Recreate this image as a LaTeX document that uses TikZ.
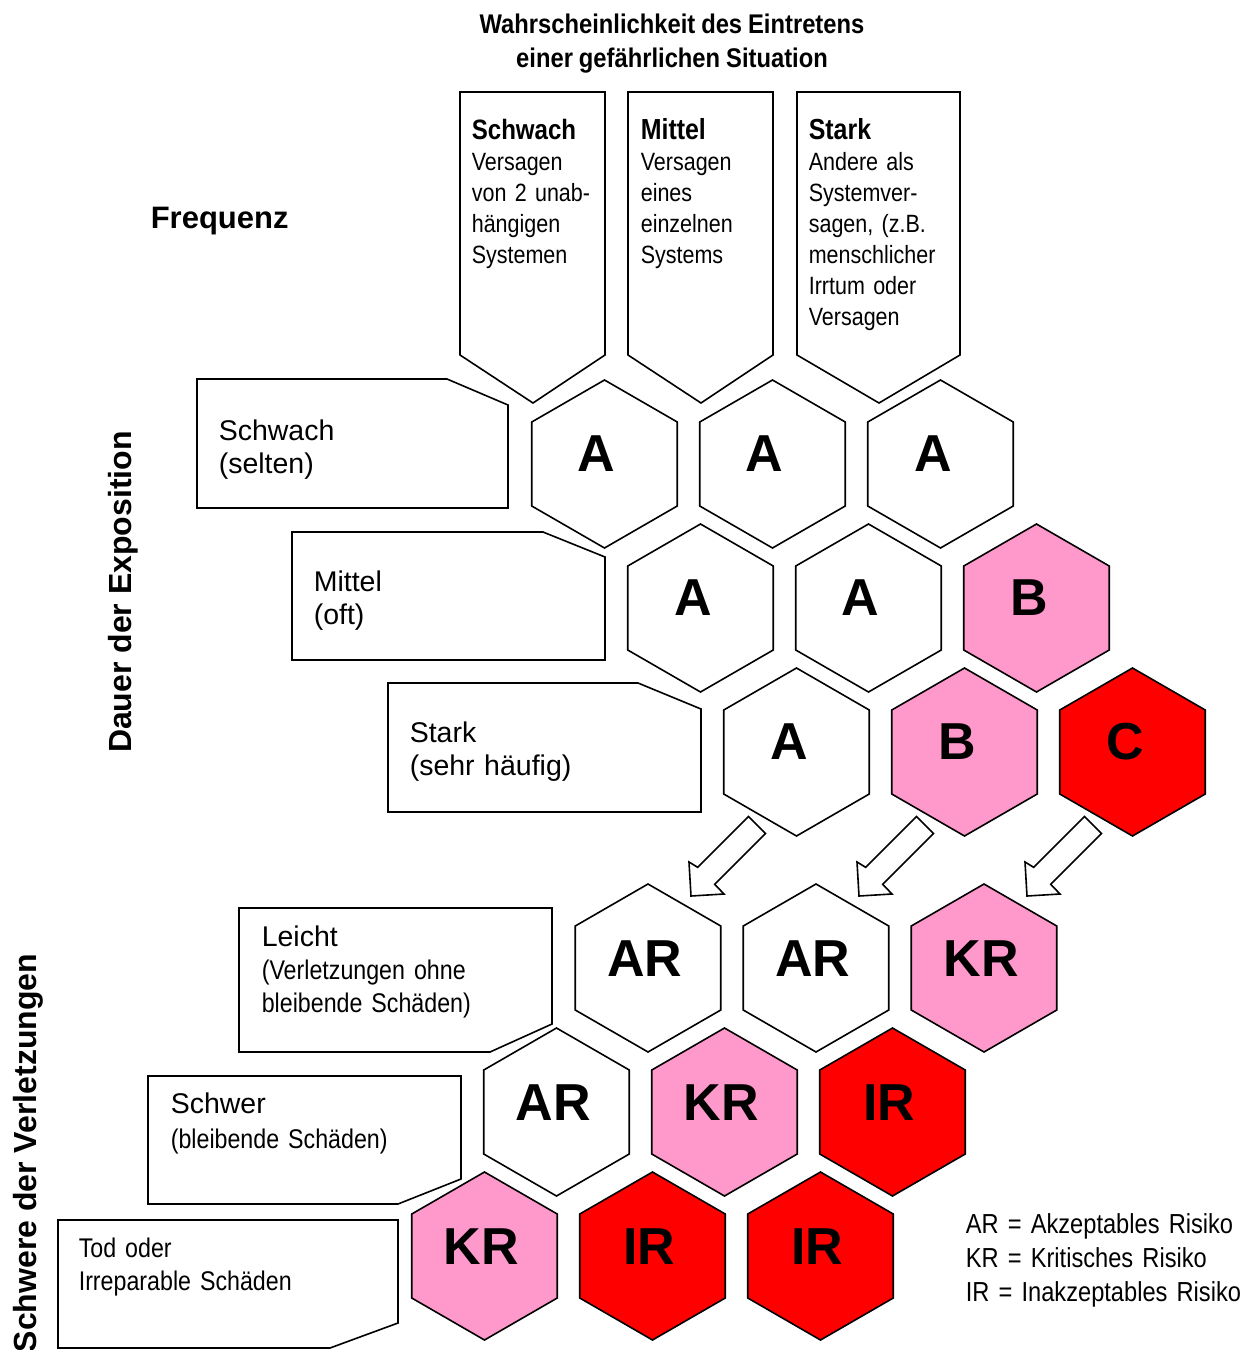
\documentclass[tikz,border=0pt]{standalone}
\usepackage{fontspec}
\setmainfont{Liberation Sans}
\newfontfamily\nrw{Liberation Sans}[FakeStretch=0.86,WordSpace=0.8]
\newfontfamily\nrwt{Liberation Sans}[FakeStretch=0.88,WordSpace=0.9]
\usetikzlibrary{shapes.geometric,calc}
\definecolor{pinkc}{HTML}{FF99CC}
\definecolor{redc}{HTML}{FF0000}
\begin{document}
\begin{tikzpicture}[x=1pt,y=-1pt,line width=1.6pt,line join=miter,
  hexa/.style={regular polygon,regular polygon sides=6,shape border rotate=30,minimum size=168pt,inner sep=0pt,outer sep=0pt,draw=black},
  hexw/.style={hexa,fill=white},
  hexp/.style={hexa,fill=pinkc},
  hexr/.style={hexa,fill=redc},
  hexlbl/.style={anchor=base,inner sep=0pt,font=\fontsize{52}{60}\selectfont\bfseries},
  boxshape/.style={draw=black,fill=white},
  blockarrow/.style={draw=black,fill=white},
  lbl/.style={anchor=base west,inner sep=0pt,align=left},
  colfont/.style={font=\nrw\fontsize{25}{31}\selectfont},
  rowfont/.style={font=\fontsize{28.5}{33}\selectfont},
  nrwfont/.style={font=\nrw\fontsize{27}{33.5}\selectfont},
  bigbold/.style={font=\bfseries\fontsize{32}{36}\selectfont}
]
\useasboundingbox (0,0) rectangle (1252,1350);
\fill[white] (0,0) rectangle (1252,1350);

% title
\node[anchor=base,inner sep=0pt,font=\nrwt\bfseries\fontsize{27}{34}\selectfont] (title1) at (672,33) {Wahrscheinlichkeit des Eintretens};
\node[anchor=base,inner sep=0pt,font=\nrwt\bfseries\fontsize{27}{34}\selectfont] (title2) at (672,67) {einer gefährlichen Situation};

% Frequenz
\node[lbl,font=\bfseries\fontsize{31}{36}\selectfont] (freq) at (150,228) {Frequenz};

% vertical labels
\node[anchor=base,inner sep=0pt,rotate=90,bigbold] (dauer) at (131,592) {Dauer der Exposition};
\node[anchor=base,inner sep=0pt,rotate=90,bigbold] (schwere) at (36,1153) {Schwere der Verletzungen};

% column boxes
\draw[boxshape] (460,92) -- (605,92) -- (605,355) -- (533,403) -- (460,355) -- cycle;
\draw[boxshape] (628,92) -- (773,92) -- (773,355) -- (701,403) -- (628,355) -- cycle;
\draw[boxshape] (797,92) -- (960,92) -- (960,355) -- (879,403) -- (797,355) -- cycle;
\node[lbl,colfont,text width=130pt] (col1) at (471,139) {{\bfseries\fontsize{28}{31}\selectfont Schwach}\\Versagen\\von 2 unab-\\hängigen\\Systemen};
\node[lbl,colfont,text width=130pt] (col2) at (640,139) {{\bfseries\fontsize{29}{31}\selectfont Mittel}\\Versagen\\eines\\einzelnen\\Systems};
\node[lbl,colfont,text width=150pt] (col3) at (808,139) {{\bfseries\fontsize{29}{31}\selectfont Stark}\\Andere als\\Systemver-\\sagen, (z.B.\\menschlicher\\Irrtum oder\\Versagen};

% row boxes (exposition)
\draw[boxshape] (197,379) -- (447,379) -- (508,405) -- (508,508) -- (197,508) -- cycle;
\draw[boxshape] (292,532) -- (543,532) -- (605,557) -- (605,660) -- (292,660) -- cycle;
\draw[boxshape] (388,683) -- (638,683) -- (701,709) -- (701,812) -- (388,812) -- cycle;
\node[lbl,rowfont,text width=250pt] (r1) at (218,440) {Schwach\\(selten)};
\node[lbl,rowfont,text width=250pt] (r2) at (313,591) {Mittel\\(oft)};
\node[lbl,rowfont,text width=250pt] (r3) at (409,742) {Stark\\(sehr häufig)};

% row boxes (severity)
\draw[boxshape] (239,908) -- (552,908) -- (552,1024) -- (490,1052) -- (239,1052) -- cycle;
\draw[boxshape] (148,1076) -- (461,1076) -- (461,1179) -- (398,1204) -- (148,1204) -- cycle;
\draw[boxshape] (58,1220) -- (398,1220) -- (398,1323) -- (330,1348) -- (58,1348) -- cycle;
\node[lbl,rowfont] (s1a) at (261,946) {Leicht};
\node[lbl,nrwfont,text width=270pt] (s1b) at (261,979) {(Verletzungen ohne\\bleibende Schäden)};
\node[lbl,rowfont] (s2a) at (170,1113) {Schwer};
\node[lbl,nrwfont,text width=270pt] (s2b) at (170,1148) {(bleibende Schäden)};
\node[lbl,nrwfont,text width=300pt] (s3) at (78,1257) {Tod oder\\Irreparable Schäden};

% hexagons, upper part
\node[hexw] (h11) at (604.5,464) {};
\node[hexw] (h12) at (772.5,464) {};
\node[hexw] (h13) at (940.5,464) {};
\node[hexw] (h21) at (700.5,608) {};
\node[hexw] (h22) at (868.5,608) {};
\node[hexp] (h23) at (1036.5,608) {};
\node[hexw] (h31) at (796.5,752) {};
\node[hexp] (h32) at (964.5,752) {};
\node[hexr] (h33) at (1132.5,752) {};
\node[hexlbl] (t11) at ($(h11)+(-8,7.5)$) {A};
\node[hexlbl] (t12) at ($(h12)+(-8,7.5)$) {A};
\node[hexlbl] (t13) at ($(h13)+(-7,7.5)$) {A};
\node[hexlbl] (t21) at ($(h21)+(-7,7.5)$) {A};
\node[hexlbl] (t22) at ($(h22)+(-8,7.5)$) {A};
\node[hexlbl] (t23) at ($(h23)+(-7,7.5)$) {B};
\node[hexlbl] (t31) at ($(h31)+(-7,7.5)$) {A};
\node[hexlbl] (t32) at ($(h32)+(-7,7.5)$) {B};
\node[hexlbl] (t33) at ($(h33)+(-7,7.5)$) {C};

% hexagons, lower part
\node[hexw] (h41) at (648,968) {};
\node[hexw] (h42) at (816,968) {};
\node[hexp] (h43) at (984,968) {};
\node[hexw] (h51) at (556.5,1112) {};
\node[hexp] (h52) at (724.5,1112) {};
\node[hexr] (h53) at (892.5,1112) {};
\node[hexp] (h61) at (484.5,1256) {};
\node[hexr] (h62) at (652.5,1256) {};
\node[hexr] (h63) at (820.5,1256) {};
\node[hexlbl] (t41) at ($(h41)+(-3,8)$) {AR};
\node[hexlbl] (t42) at ($(h42)+(-3,8)$) {AR};
\node[hexlbl] (t43) at ($(h43)+(-3,8)$) {KR};
\node[hexlbl] (t51) at ($(h51)+(-3,8)$) {AR};
\node[hexlbl] (t52) at ($(h52)+(-3,8)$) {KR};
\node[hexlbl] (t53) at ($(h53)+(-3,8)$) {IR};
\node[hexlbl] (t61) at ($(h61)+(-3,8)$) {KR};
\node[hexlbl] (t62) at ($(h62)+(-3,8)$) {IR};
\node[hexlbl] (t63) at ($(h63)+(-3,8)$) {IR};

% block arrows
\coordinate (a1) at (757,825);
\coordinate (a2) at (925,825);
\coordinate (a3) at (1093,825);
\foreach \a in {a1,a2,a3}{
  \draw[blockarrow,shift={(\a)}] (-8.5,-8.5) -- (8.5,8.5) -- (-42.3,59.3) -- (-33,69) -- (-66,71) -- (-68,37) -- (-59.3,42.3) -- cycle;
}

% legend
\node[lbl,font=\nrw\fontsize{27.5}{34}\selectfont,text width=300pt] (legend) at (965,1233) {AR = Akzeptables Risiko\\KR = Kritisches Risiko\\IR = Inakzeptables Risiko};
\end{tikzpicture}
\end{document}
